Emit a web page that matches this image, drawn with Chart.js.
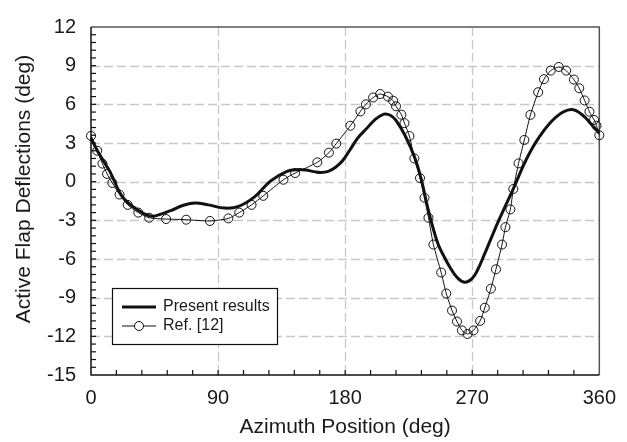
<!DOCTYPE html>
<html><head><meta charset="utf-8">
<script src="https://cdn.jsdelivr.net/npm/chart.js@4.4.0/dist/chart.umd.min.js"></script>
<style>html,body{margin:0;padding:0;background:#fff;overflow:hidden}#wrap{width:627px;height:442px;position:relative}</style>
</head><body><div id="wrap"><canvas id="c" width="627" height="442"></canvas></div>
<script>
const xTicks = [0, 90, 180, 270, 360];
const yTicks = [-15, -12, -9, -6, -3, 0, 3, 6, 9, 12];
const seriesNames = ['Present results', 'Ref. [12]'];
const xTitle = 'Azimuth Position (deg)';
const yTitle = 'Active Flap Deflections (deg)';

const presX = [0, 5, 13.3, 22.5, 34, 43, 50, 57.4, 65, 73.7, 83, 94.7, 104, 115.6, 127.2, 138.8, 146, 152, 158, 163, 168, 173, 178, 183, 189, 195, 201, 207.4, 212, 216, 222.6, 229.5, 234.2, 238, 242, 246, 250, 254, 259, 264.5, 270, 274, 278, 283, 288, 293, 299.3, 308.6, 317.9, 329.5, 340, 348.2, 354, 360];
const presY = [3.4, 2.3, 0.8, -1.2, -2.25, -2.68, -2.5, -2.2, -1.85, -1.65, -1.8, -2.05, -1.94, -1.2, 0.05, 0.8, 0.93, 0.9, 0.78, 0.72, 0.8, 1.1, 1.6, 2.4, 3.4, 4.1, 4.8, 5.24, 5.15, 4.75, 3.54, 1.8, 0.05, -1.8, -3.5, -4.9, -5.8, -6.6, -7.4, -7.8, -7.5, -6.8, -5.8, -4.5, -3.2, -2.0, -0.5, 1.8, 3.54, 5.03, 5.59, 5.16, 4.5, 3.75];

const refX = [0, 4.4, 8.1, 11.4, 15.1, 20.2, 26, 33.5, 41.2, 53.2, 67.4, 84.2, 97.3, 105, 113.7, 122, 136.3, 144.6, 160.3, 168.5, 173.7, 183.7, 190.8, 194.7, 199.8, 204.8, 210.3, 214, 216, 219.8, 222, 225.5, 229, 233, 236.2, 239, 242.5, 248, 251.6, 255.7, 259.2, 262.7, 266.7, 270.9, 275.6, 278.9, 283.2, 286.8, 291.1, 293.5, 297, 299.1, 302.8, 306.9, 311.2, 316.7, 320.8, 325.6, 331.3, 336.5, 342, 345.8, 349.6, 353, 356.3, 358, 360];
const refY = [3.55, 2.4, 1.4, 0.6, -0.1, -1.0, -1.8, -2.4, -2.8, -2.9, -2.95, -3.05, -2.85, -2.4, -1.8, -1.1, 0.15, 0.67, 1.5, 2.25, 2.95, 4.34, 5.45, 6.0, 6.53, 6.8, 6.6, 6.28, 5.85, 5.2, 4.54, 3.54, 1.8, 0.28, -1.25, -2.8, -4.88, -7.05, -8.68, -10.0, -10.85, -11.54, -11.82, -11.54, -10.8, -9.78, -8.3, -6.8, -4.88, -3.53, -2.15, -0.57, 1.42, 3.24, 5.18, 6.94, 7.95, 8.62, 8.9, 8.62, 7.92, 7.25, 6.3, 5.43, 4.79, 4.34, 3.6];

const FONT = "'Liberation Sans', Arial, sans-serif";

const decor = {
  id: 'decor',
  beforeDatasetsDraw(chart) {
    const {ctx, chartArea: a, scales: {x, y}} = chart;
    ctx.save();
    ctx.strokeStyle = '#c8c8c8';
    ctx.lineWidth = 1.3;
    ctx.setLineDash([9, 4]);
    xTicks.forEach(v => {
      if (v === 0 || v === 360) return;
      const px = Math.round(x.getPixelForValue(v)) + 0.5;
      ctx.beginPath(); ctx.moveTo(px, a.top); ctx.lineTo(px, a.bottom); ctx.stroke();
    });
    yTicks.forEach(v => {
      if (v === -15 || v === 12) return;
      const py = Math.round(y.getPixelForValue(v)) + 0.5;
      ctx.beginPath(); ctx.moveTo(a.left, py); ctx.lineTo(a.right, py); ctx.stroke();
    });
    ctx.setLineDash([]);
    ctx.strokeStyle = '#555';
    ctx.lineWidth = 1.5;
    ctx.beginPath(); ctx.moveTo(a.left, a.top); ctx.lineTo(a.right, a.top); ctx.lineTo(a.right, a.bottom); ctx.stroke();
    ctx.strokeStyle = '#111';
    ctx.beginPath(); ctx.moveTo(a.left, a.top); ctx.lineTo(a.left, a.bottom); ctx.lineTo(a.right, a.bottom); ctx.stroke();
    ctx.lineWidth = 1.2;
    for (let i = 1; i < 20; i++) {
      const px = x.getPixelForValue(i * 18);
      ctx.beginPath(); ctx.moveTo(px, a.bottom); ctx.lineTo(px, a.bottom - 5); ctx.stroke();
    }
    for (let i = 1; i < 45; i++) {
      const py = y.getPixelForValue(-15 + i * 0.6);
      ctx.beginPath(); ctx.moveTo(a.left, py); ctx.lineTo(a.left + 5, py); ctx.stroke();
    }
    ctx.restore();
  },
  afterDraw(chart) {
    const {ctx, chartArea: a} = chart;
    ctx.save();
    ctx.fillStyle = '#1a1a1a';
    ctx.font = '21px ' + FONT;
    ctx.textAlign = 'center';
    ctx.textBaseline = 'alphabetic';
    ctx.fillText(xTitle, (a.left + a.right) / 2, 433);
    ctx.save();
    ctx.translate(30, (a.top + a.bottom) / 2 - 12);
    ctx.rotate(-Math.PI / 2);
    ctx.fillText(yTitle, 0, 0);
    ctx.restore();
    const bx = 112, by = 288, bw = 165, bh = 56;
    ctx.fillStyle = '#fff';
    ctx.fillRect(bx, by, bw, bh);
    ctx.strokeStyle = '#111';
    ctx.lineWidth = 1.2;
    ctx.strokeRect(bx + 0.5, by + 0.5, bw, bh);
    ctx.lineWidth = 3;
    ctx.beginPath(); ctx.moveTo(122, 307); ctx.lineTo(156, 307); ctx.stroke();
    ctx.lineWidth = 1;
    ctx.beginPath(); ctx.moveTo(122, 326); ctx.lineTo(156, 326); ctx.stroke();
    ctx.fillStyle = '#fff';
    ctx.beginPath(); ctx.arc(139, 326, 4.5, 0, Math.PI * 2); ctx.fill(); ctx.stroke();
    ctx.fillStyle = '#1a1a1a';
    ctx.font = '16px ' + FONT;
    ctx.textAlign = 'left';
    ctx.textBaseline = 'middle';
    ctx.fillText(seriesNames[0], 163, 307);
    ctx.fillText(seriesNames[1], 163, 326);
    ctx.restore();
  }
};

new Chart(document.getElementById('c'), {
  type: 'scatter',
  data: {
    datasets: [
      {
        label: seriesNames[0],
        data: presX.map((v, i) => ({x: v, y: presY[i]})),
        showLine: true,
        borderColor: '#111',
        borderWidth: 3,
        pointRadius: 0,
        tension: 0.4,
        clip: false
      },
      {
        label: seriesNames[1],
        data: refX.map((v, i) => ({x: v, y: refY[i]})),
        showLine: true,
        borderColor: '#111',
        borderWidth: 1,
        tension: 0.2,
        pointRadius: 4.5,
        pointBorderWidth: 1,
        pointBorderColor: '#111',
        pointBackgroundColor: 'rgba(0,0,0,0)',
        clip: false
      }
    ]
  },
  options: {
    responsive: false,
    animation: false,
    devicePixelRatio: 1,
    layout: {padding: {top: 14, right: 20, left: 0, bottom: 0}},
    plugins: {legend: {display: false}, tooltip: {enabled: false}},
    scales: {
      x: {
        type: 'linear', min: 0, max: 360,
        afterBuildTicks: s => { s.ticks = xTicks.map(v => ({value: v})); },
        ticks: {font: {family: FONT, size: 20}, color: '#1a1a1a', padding: 11, maxRotation: 0},
        grid: {display: false, drawTicks: false},
        border: {display: false},
        afterFit: s => { s.height = 67; }
      },
      y: {
        type: 'linear', min: -15, max: 12,
        afterBuildTicks: s => { s.ticks = yTicks.map(v => ({value: v})); },
        ticks: {font: {family: FONT, size: 20}, color: '#1a1a1a', padding: 15},
        grid: {display: false, drawTicks: false},
        border: {display: false},
        afterFit: s => { s.width = 91; }
      }
    }
  },
  plugins: [decor]
});
</script></body></html>
